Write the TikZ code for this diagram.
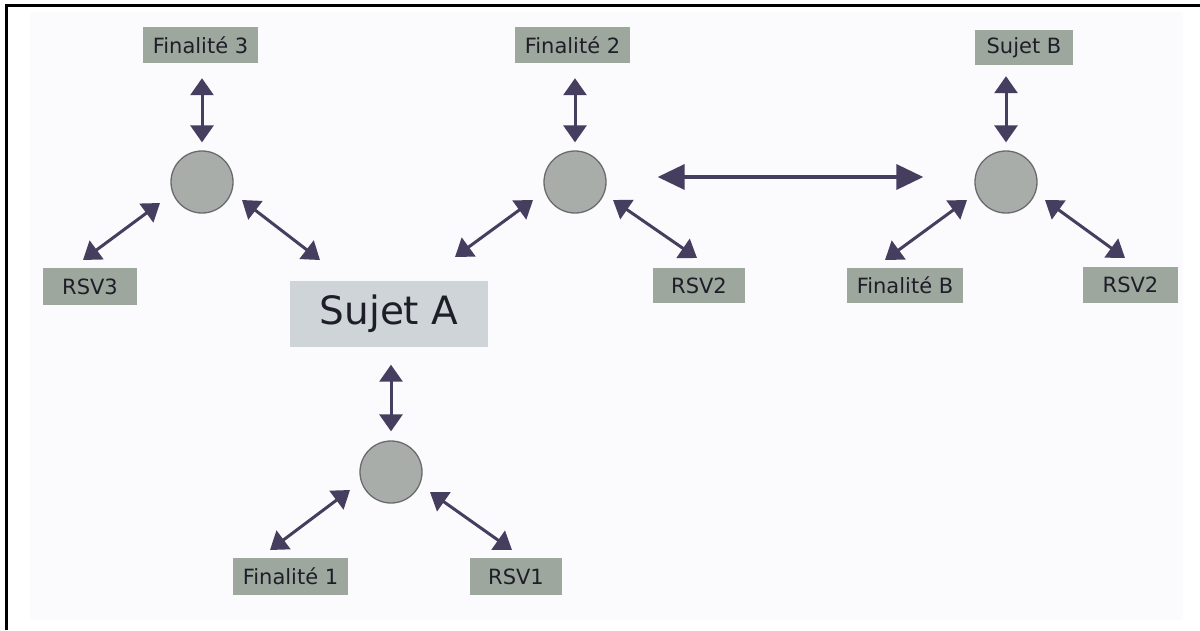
\documentclass[tikz,border=0pt]{standalone}
\usepackage{fontspec}
\setmainfont{DejaVu Sans}
\usetikzlibrary{arrows.meta}
\definecolor{boxgray}{RGB}{158,167,158}
\definecolor{sujgray}{RGB}{206,212,216}
\definecolor{circfill}{RGB}{168,173,170}
\definecolor{circline}{RGB}{105,105,110}
\definecolor{arrcol}{RGB}{70,62,94}
\definecolor{txtcol}{RGB}{30,30,40}
\definecolor{paper}{RGB}{251,250,252}
\tikzset{
  lbl/.style={fill=boxgray, text=txtcol, inner sep=0pt, minimum height=36pt, font=\fontsize{21}{21}\selectfont},
  bigbox/.style={fill=sujgray, text=txtcol, inner sep=0pt, minimum width=198pt, minimum height=66pt, font=\fontsize{39}{39}\selectfont},
  hub/.style={circle, fill=circfill, draw=circline, line width=1.3pt, minimum size=62pt, inner sep=0pt},
  link/.style={draw=arrcol, line width=3pt, {Triangle[length=17pt,width=23pt]}-{Triangle[length=17pt,width=23pt]}},
  biglink/.style={draw=arrcol, line width=3.5pt, {Triangle[length=27pt,width=25pt]}-{Triangle[length=27pt,width=25pt]}}
}
\begin{document}
\begin{tikzpicture}[x=1pt,y=-1pt]
\useasboundingbox (0,0) rectangle (1200,630);
\fill[white] (0,0) rectangle (1200,630);
\fill[paper] (30,12) rectangle (1183,620);
\draw[line width=2.5pt, black] (6.5,630) -- (6.5,5.5) -- (1200,5.5);

% hubs
\node[hub] (c1) at (202,182) {};
\node[hub] (c2) at (575,182) {};
\node[hub] (c3) at (1006,182) {};
\node[hub] (c4) at (391,472) {};

% labels
\node[lbl, minimum width=115pt] (fin3) at (200.5,45) {Finalité 3};
\node[lbl, minimum width=115pt] (fin2) at (572.5,45) {Finalité 2};
\node[lbl, minimum width=98pt, minimum height=35pt] (sujB) at (1024,47.5) {Sujet B};
\node[lbl, minimum width=94pt, minimum height=37pt] (rsv3) at (90,286.5) {RSV3};
\node[lbl, minimum width=92pt, minimum height=35pt] (rsv2a) at (699,285.5) {RSV2};
\node[lbl, minimum width=116pt, minimum height=35pt] (finB) at (905,285.5) {Finalité B};
\node[lbl, minimum width=95pt] (rsv2b) at (1130.5,285) {RSV2};
\node[bigbox] (sujA) at (389,313.5) {Sujet A};
\node[lbl, minimum width=115pt, minimum height=37pt] (fin1) at (290.5,576.5) {Finalité 1};
\node[lbl, minimum width=92pt, minimum height=37pt] (rsv1) at (516,576.5) {RSV1};

% free ends of the diagonal connectors
\coordinate (p1a) at (160,203); \coordinate (q1a) at (83,260);
\coordinate (p1b) at (242,200); \coordinate (q1b) at (320,260);
\coordinate (p2a) at (533,200); \coordinate (q2a) at (455,257);
\coordinate (p2b) at (613,200); \coordinate (q2b) at (697,258);
\coordinate (p3a) at (967,200); \coordinate (q3a) at (885,260);
\coordinate (p3b) at (1045,200); \coordinate (q3b) at (1125,258);
\coordinate (p4a) at (350,490); \coordinate (q4a) at (270,550);
\coordinate (p4b) at (430,492); \coordinate (q4b) at (512,550);

% vertical connectors
\draw[link, shorten <=15pt, shorten >=8pt] (fin3.south -| c1) -- (c1.north);
\draw[link, shorten <=15pt, shorten >=8pt] (fin2.south -| c2) -- (c2.north);
\draw[link, shorten <=11pt, shorten >=8pt] (sujB.south -| c3) -- (c3.north);
\draw[link, shorten <=18pt, shorten >=9pt] (sujA.south -| c4) -- (c4.north);

% diagonal connectors
\draw[link] (p1a) -- (q1a);
\draw[link] (p1b) -- (q1b);
\draw[link] (p2a) -- (q2a);
\draw[link] (p2b) -- (q2b);
\draw[link] (p3a) -- (q3a);
\draw[link] (p3b) -- (q3b);
\draw[link] (p4a) -- (q4a);
\draw[link] (p4b) -- (q4b);

% horizontal connector
\draw[biglink, shorten <=51pt, shorten >=51pt] ([yshift=5pt]c2.east) -- ([yshift=5pt]c3.west);
\end{tikzpicture}
\end{document}
